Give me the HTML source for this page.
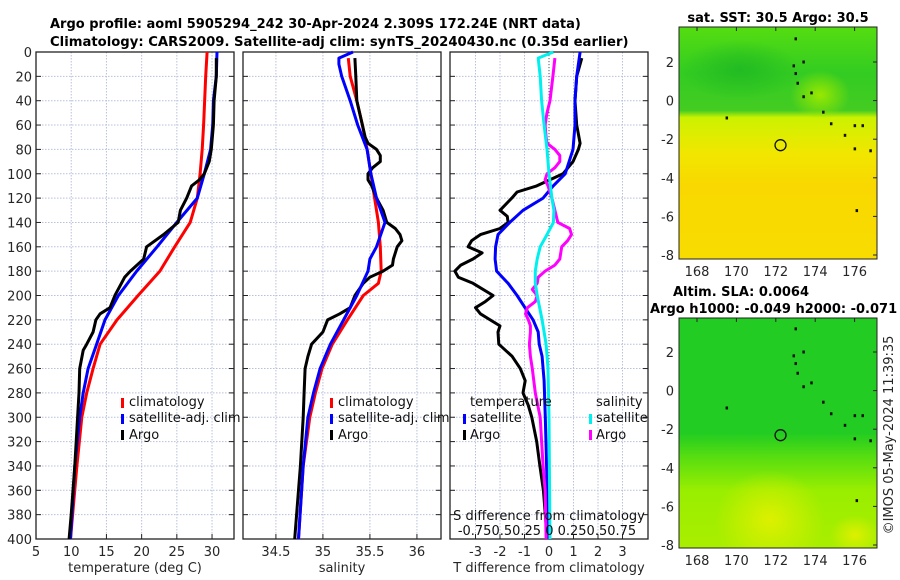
<!DOCTYPE html>
<html><head><meta charset="utf-8"><style>
html,body{margin:0;padding:0;background:#fff;width:900px;height:580px;overflow:hidden}
svg{display:block;font-family:"DejaVu Sans","Liberation Sans",sans-serif}
</style></head><body>
<svg id="fig" width="900" height="580" xmlns="http://www.w3.org/2000/svg">
<defs>
<linearGradient id="sstGrad" x1="0" y1="0" x2="0" y2="1">
<stop offset="0" stop-color="#55dd11"/><stop offset="0.2" stop-color="#33cc22"/><stop offset="0.36" stop-color="#44cc22"/>
<stop offset="0.39" stop-color="#ccf200"/><stop offset="0.55" stop-color="#f2e600"/><stop offset="0.68" stop-color="#f8d800"/><stop offset="1" stop-color="#f8dc00"/>
</linearGradient>
<linearGradient id="slaGrad" x1="0" y1="0" x2="0" y2="1">
<stop offset="0" stop-color="#22cc22"/><stop offset="0.5" stop-color="#22cc22"/><stop offset="0.6" stop-color="#55dd11"/>
<stop offset="0.75" stop-color="#99ee00"/><stop offset="1" stop-color="#aaee00"/>
</linearGradient>
<radialGradient id="slaYel" cx="0.5" cy="0.5" r="0.5"><stop offset="0" stop-color="#ddf000"/><stop offset="1" stop-color="#ddf000" stop-opacity="0"/></radialGradient>
<radialGradient id="sstDark" cx="0.5" cy="0.5" r="0.5"><stop offset="0" stop-color="#22bb22"/><stop offset="1" stop-color="#22bb22" stop-opacity="0"/></radialGradient>
<radialGradient id="sstLight" cx="0.5" cy="0.5" r="0.5"><stop offset="0" stop-color="#99e800"/><stop offset="1" stop-color="#99e800" stop-opacity="0"/></radialGradient>
<clipPath id="clipTop"><rect x="679" y="27" width="198" height="232"/></clipPath>
<clipPath id="clipBot"><rect x="679" y="318" width="198" height="230"/></clipPath>
</defs>
<g id="g-main"></g>
</svg>
<script>
// depth levels and profile data
const tDepthClim = [0,20,60,80,100,120,140,160,180,200,220,240,260,280,300,340,400];
const tClim = [29.3,29.1,28.8,28.6,28.3,27.9,26.9,24.7,22.6,19.5,16.5,14.1,13.1,12.2,11.5,10.8,9.9];
const tDepthSat = [0,20,40,60,80,100,120,140,160,180,200,220,240,260,280,300,340,400];
const tSat = [30.7,30.6,30.2,30.1,29.8,28.9,27.9,25.0,22.2,19.3,16.7,14.8,13.6,12.4,11.7,11.2,10.5,9.9];
const tDepthArgo = [5,20,40,60,80,90,100,105,110,120,130,140,150,160,170,180,185,200,210,215,220,230,240,245,260,280,300,340,380,400];
const tArgo = [30.6,30.6,30.3,30.2,29.9,29.6,28.9,28.2,27.1,26.4,25.5,25.2,23.1,20.7,20.3,18.4,17.6,16.2,15.5,14.1,13.5,13.1,12.2,11.7,11.2,11.1,10.9,10.5,10.0,9.7];

const sDepthClim = [5,20,40,60,80,100,120,140,160,180,190,200,220,240,260,280,300,340,400];
const sClim = [35.27,35.29,35.36,35.42,35.47,35.51,35.55,35.59,35.61,35.62,35.59,35.43,35.26,35.10,34.99,34.92,34.86,34.79,34.74];
const sDepthSat = [0,5,10,20,40,60,80,100,120,140,160,170,180,200,220,240,260,280,300,340,400];
const sSat = [35.32,35.17,35.17,35.20,35.29,35.37,35.47,35.51,35.57,35.66,35.57,35.50,35.48,35.36,35.22,35.08,34.97,34.90,34.84,34.79,34.74];
const sDepthArgo = [5,20,40,60,70,75,80,85,90,95,100,105,110,120,130,140,145,150,155,160,170,175,180,185,190,200,210,215,220,230,240,250,260,280,300,340,380,400];
const sArgo = [35.34,35.35,35.36,35.42,35.45,35.48,35.57,35.61,35.61,35.53,35.48,35.48,35.52,35.57,35.64,35.68,35.77,35.82,35.84,35.79,35.75,35.74,35.64,35.50,35.43,35.34,35.29,35.18,35.05,35.00,34.88,34.84,34.81,34.80,34.79,34.76,34.72,34.70];

const dtDepthSat = [0,20,40,60,80,100,110,120,130,140,150,160,170,180,190,200,210,220,230,240,250,260,270,300,400];
const dtSat = [1.27,1.13,1.06,1.06,0.98,0.66,0.17,-0.24,-1.06,-1.6,-2.08,-2.18,-2.2,-2.14,-1.67,-1.3,-0.98,-0.65,-0.44,-0.4,-0.28,-0.24,-0.2,-0.15,-0.02];
const dtDepthArgo = [5,20,40,60,75,80,90,100,110,115,120,130,135,140,145,150,155,160,165,170,175,180,185,190,200,205,210,215,220,225,230,240,250,260,270,280,290,300,320,340,360,380,400];
const dtArgo = [1.34,1.13,1.06,1.13,1.27,1.2,0.98,0.57,-0.5,-1.3,-1.52,-2.0,-1.7,-1.67,-2.0,-2.8,-3.16,-3.3,-2.73,-3.1,-3.6,-3.84,-3.7,-3.1,-2.28,-2.6,-3.0,-2.8,-2.4,-2.0,-2.08,-2.05,-1.5,-1.17,-0.97,-1.06,-0.85,-0.7,-0.5,-0.37,-0.23,-0.15,-0.07];
const dsDepthSat = [0,5,20,40,60,80,100,120,130,140,150,160,170,180,190,200,220,240,260,300,400];
const dsSat = [0.044,-0.11,-0.09,-0.075,-0.05,-0.02,0,0.03,0.05,0.045,-0.02,-0.09,-0.12,-0.14,-0.14,-0.12,-0.07,-0.03,-0.01,0,0.01];
const dsDepthArgo = [5,20,40,50,60,70,75,80,85,90,95,100,105,110,120,130,140,145,150,155,160,170,175,180,185,190,195,200,205,210,215,220,225,230,240,250,260,280,300,320,340,360,400];
const dsArgo = [0.06,0.04,0.01,-0.02,-0.04,-0.03,-0.02,0.06,0.11,0.11,0.06,-0.02,-0.04,-0.01,0.03,0.06,0.09,0.21,0.23,0.19,0.13,0.11,0.06,-0.04,-0.11,-0.12,-0.17,-0.12,-0.14,-0.22,-0.24,-0.21,-0.19,-0.19,-0.2,-0.19,-0.17,-0.14,-0.09,-0.075,-0.06,-0.04,-0.03];

const depthTicks = [0,20,40,60,80,100,120,140,160,180,200,220,240,260,280,300,320,340,360,380,400];
const tTicks = [5,10,15,20,25,30];
const sTicks = [34.5,35,35.5,36];
const dTicks = [-3,-2,-1,0,1,2,3];
const lonTicks = [168,170,172,174,176];
const latTicks = [2,0,-2,-4,-6,-8];
const argoLon = 172.24, argoLat = -2.309;
const islands = [[173.0,3.2],[173.4,2.0],[172.9,1.8],[173.0,1.4],[173.1,0.9],[173.4,0.2],[173.8,0.4],[174.4,-0.6],[174.8,-1.2],[175.5,-1.8],[176.0,-1.3],[176.4,-1.3],[176.0,-2.5],[176.8,-2.6],[176.1,-5.7],[169.5,-0.9]];

const NS='http://www.w3.org/2000/svg';
const root=document.getElementById('g-main');
function el(tag,attrs,parent,txt){const e=document.createElementNS(NS,tag);for(const k in attrs)e.setAttribute(k,attrs[k]);if(txt!==undefined)e.textContent=txt;(parent||root).appendChild(e);return e;}

const TOP=52,BOT=539;
const yD=d=>TOP+(d/400)*(BOT-TOP);
const panels=[
 {x0:36,x1:234,min:4.995,max:33.12,ticks:tTicks,name:'temperature-panel'},
 {x0:243,x1:441,min:34.15,max:36.256,ticks:sTicks,name:'salinity-panel'},
 {x0:450,x1:648,min:-4.04,max:4.04,ticks:dTicks,name:'difference-panel'}
];
function xf(p){return v=>p.x0+(v-p.min)/(p.max-p.min)*(p.x1-p.x0);}

panels.forEach((p,i)=>{
 const g=el('g',{});
 
 
 const X=xf(p);
 depthTicks.forEach(d=>{
  const y=yD(d);
  if(d>0&&d<400){const l=el('line',{x1:p.x0,x2:p.x1,y1:y,y2:y,stroke:'#b8c0dc','stroke-width':1,'stroke-dasharray':'1.5,1.5'},g);
   
   }
  el('line',{x1:p.x0,x2:p.x0+5,y1:y,y2:y,stroke:'#222'},g);
  el('line',{x1:p.x1,x2:p.x1-5,y1:y,y2:y,stroke:'#222'},g);
  if(i===0){const t=el('text',{x:p.x0-4,y:y+5,'text-anchor':'end','font-size':13,fill:'#262626'},g,String(d));
   
   }
 });
 p.ticks.forEach(v=>{
  const x=X(v);
  if(x>p.x0+1&&x<p.x1-1){el('line',{x1:x,x2:x,y1:TOP,y2:BOT,stroke:'#b8c0dc','stroke-width':1,'stroke-dasharray':'1.5,1.5'},g);}
  el('line',{x1:x,x2:x,y1:BOT,y2:BOT-5,stroke:'#222'},g);
  const t=el('text',{x:x,y:BOT+17,'text-anchor':'middle','font-size':13,fill:'#262626'},g,String(v));
  
  
 });
 el('rect',{x:p.x0,y:TOP,width:p.x1-p.x0,height:BOT-TOP,fill:'none',stroke:'#222','stroke-width':1.3},g);
});

function line(p,xs,ds,color,name,scale){
 const X=xf(p);const k=scale||1;
 const pts=xs.map((v,j)=>X(v*k).toFixed(1)+','+yD(ds[j]).toFixed(1)).join(' ');
 const pl=el('polyline',{points:pts,fill:'none',stroke:color,'stroke-width':3,'stroke-linejoin':'round'});
 
 
}
const z=xf(panels[2])(0);
const zl=el('line',{x1:z,x2:z,y1:TOP,y2:BOT,stroke:'#555','stroke-dasharray':'1,2'});



line(panels[0],tClim,tDepthClim,'#ff0000','temperature-climatology-line');
line(panels[0],tSat,tDepthSat,'#0000ff','temperature-satellite-line');
line(panels[0],tArgo,tDepthArgo,'#000000','temperature-argo-line');
line(panels[1],sClim,sDepthClim,'#ff0000','salinity-climatology-line');
line(panels[1],sArgo,sDepthArgo,'#000000','salinity-argo-line');
line(panels[1],sSat,sDepthSat,'#0000ff','salinity-satellite-line');
line(panels[2],dtArgo,dtDepthArgo,'#000000','t-diff-argo-line');
line(panels[2],dtSat,dtDepthSat,'#0000ff','t-diff-satellite-line');
line(panels[2],dsArgo,dsDepthArgo,'#ff00ff','s-diff-argo-line',4);
line(panels[2],dsSat,dsDepthSat,'#00f0f0','s-diff-satellite-line',4);

function map(y0,y1,Y0,fill,name,clip,extra){
 const g=el('g',{});
 
 
 const X=lon=>697+(lon-168)*19.7;
 const Y=lat=>Y0+(2-lat)*19.3;
 const cg=el('g',{'clip-path':'url(#'+clip+')'},g);
 el('rect',{x:679,y:y0,width:198,height:y1-y0,fill:fill},cg);
 extra(cg);
 islands.forEach(([lo,la])=>{const r=el('rect',{x:X(lo)-1,y:Y(la)-1.5,width:2.5,height:3,fill:'#111'},g);
  
  });
 const c=el('circle',{cx:X(argoLon),cy:Y(argoLat),r:5.5,fill:'none',stroke:'#111','stroke-width':1.3},g);
 
 
 el('rect',{x:679,y:y0,width:198,height:y1-y0,fill:'none',stroke:'#222','stroke-width':1},g);
 latTicks.forEach(la=>{const y=Y(la);el('line',{x1:877,x2:873,y1:y,y2:y,stroke:'#222'},g);
  const t=el('text',{x:674,y:y+5,'text-anchor':'end','font-size':13,fill:'#262626'},g,String(la));
  
  });
 lonTicks.forEach(lo=>{const x=X(lo);el('line',{x1:x,x2:x,y1:y0,y2:y0+4,stroke:'#222'},g);
  const t=el('text',{x:x,y:y1+17,'text-anchor':'middle','font-size':13,fill:'#262626'},g,String(lo));
  
  });
}
map(27,259,62,'url(#sstGrad)','sst-map','clipTop',g=>{
 el('ellipse',{cx:740,cy:70,rx:60,ry:30,fill:'url(#sstDark)'},g);
 el('ellipse',{cx:820,cy:95,rx:30,ry:25,fill:'url(#sstLight)'},g);
});
map(318,548,352,'url(#slaGrad)','sla-map','clipBot',g=>{
 el('ellipse',{cx:770,cy:520,rx:55,ry:50,fill:'url(#slaYel)'},g);
 el('ellipse',{cx:855,cy:535,rx:25,ry:20,fill:'url(#slaYel)'},g);
});
</script>
<div style="position:absolute;left:0;top:0;width:900px;height:580px;pointer-events:none">
<svg width="900" height="580" xmlns="http://www.w3.org/2000/svg" style="font-family:'DejaVu Sans','Liberation Sans',sans-serif">
<text x="50" y="28" font-size="13" font-weight="bold" fill="#000">Argo profile: aoml 5905294_242 30-Apr-2024 2.309S 172.24E (NRT data)</text>
<text x="50" y="46" font-size="13.2" font-weight="bold" fill="#000">Climatology: CARS2009. Satellite-adj clim: synTS_20240430.nc (0.35d earlier)</text>
<text x="135" y="572" text-anchor="middle" font-size="13" fill="#262626">temperature (deg C)</text>
<text x="342" y="572" text-anchor="middle" font-size="13" fill="#262626">salinity</text>
<text x="549" y="572" text-anchor="middle" font-size="13" fill="#262626">T difference from climatology</text>
<text x="549" y="520" text-anchor="middle" font-size="13" fill="#111">S difference from climatology</text>
<text x="547" y="535" text-anchor="middle" font-size="13" fill="#111">-0.750.50.25 0 0.250.50.75</text>
<g font-size="13" fill="#111">
<rect x="121" y="398" width="3" height="10" fill="#ff0000"/><text x="129" y="406">climatology</text>
<rect x="121" y="414" width="3" height="10" fill="#0000ff"/><text x="129" y="422">satellite-adj. clim</text>
<rect x="121" y="430" width="3" height="10" fill="#000"/><text x="129" y="439">Argo</text>
</g>
<g font-size="13" fill="#111">
<rect x="330" y="398" width="3" height="10" fill="#ff0000"/><text x="338" y="406">climatology</text>
<rect x="330" y="414" width="3" height="10" fill="#0000ff"/><text x="338" y="422">satellite-adj. clim</text>
<rect x="330" y="430" width="3" height="10" fill="#000"/><text x="338" y="439">Argo</text>
</g>
<g font-size="13" fill="#111">
<text x="470" y="406">temperature</text>
<rect x="463" y="414" width="3" height="10" fill="#0000ff"/><text x="470" y="422">satellite</text>
<rect x="463" y="430" width="3" height="10" fill="#000"/><text x="470" y="439">Argo</text>
<text x="596" y="406">salinity</text>
<rect x="589" y="414" width="3" height="10" fill="#00f0f0"/><text x="596" y="422">satellite</text>
<rect x="589" y="430" width="3" height="10" fill="#ff00ff"/><text x="596" y="439">Argo</text>
</g>
<text x="778" y="22" text-anchor="middle" font-size="13" font-weight="bold" fill="#000">sat. SST: 30.5 Argo: 30.5</text>
<text x="741" y="296" text-anchor="middle" font-size="13" font-weight="bold" fill="#000">Altim. SLA: 0.0064</text>
<text x="650" y="313" font-size="13" font-weight="bold" fill="#000">Argo h1000: -0.049 h2000: -0.071</text>
<text transform="translate(893,435) rotate(-90)" text-anchor="middle" font-size="13" fill="#262626">©IMOS 05-May-2024 11:39:35</text>
</svg>
</div>
</body></html>
